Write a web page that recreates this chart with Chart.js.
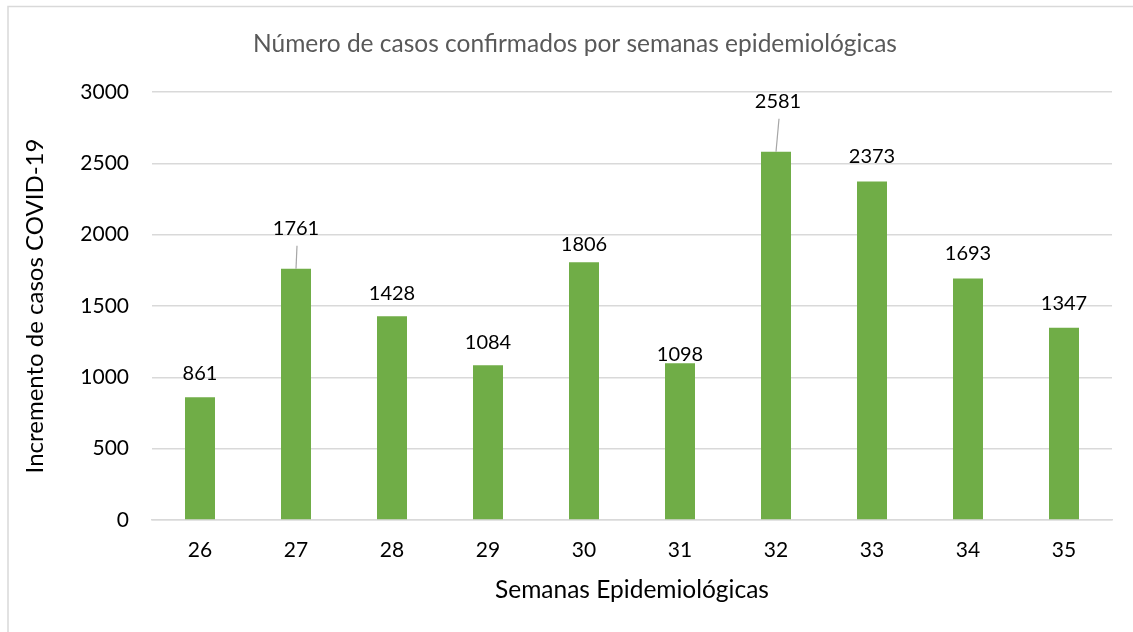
<!DOCTYPE html>
<html><head><meta charset="utf-8">
<script src="https://cdn.jsdelivr.net/npm/chart.js@4/dist/chart.umd.min.js"></script>
<style>html,body{margin:0;padding:0;background:#fff;}#wrap{width:1133px;height:632px;position:relative;}</style>
</head><body><div id="wrap"><canvas id="c" width="1133" height="632"></canvas></div>
<script>
const categories = ['26','27','28','29','30','31','32','33','34','35'];
const casos = [861, 1761, 1428, 1084, 1806, 1098, 2581, 2373, 1693, 1347];
const yTicks = [0, 500, 1000, 1500, 2000, 2500, 3000];
const chartTitle = 'Número de casos confirmados por semanas epidemiológicas';
const yTitle = 'Incremento de casos COVID-19';
const xTitle = 'Semanas Epidemiológicas';
// label placement styling (pixels above bar top), and leader lines
const labelLift = [23.5, 40, 23, 23, 18, 9, 50, 24.5, 24.5, 24.5];
const labelShiftX = [0, 0, 0, 0, 0, 0, 2, 0, 0, 0];
const leader = [false, true, false, false, false, false, true, false, false, false];

const FONT = 'Lato, "Open Sans", sans-serif';

const decor = {
  id: 'decor',
  beforeDraw(chart) {
    const c = chart.ctx;
    c.save();
    c.fillStyle = '#fff';
    c.fillRect(0, 0, chart.width, chart.height);
    c.strokeStyle = '#d9d9d9';
    c.lineWidth = 1.5;
    c.beginPath();
    c.moveTo(8, 640); c.lineTo(8, 6.5); c.lineTo(1133, 6.5);
    c.stroke();
    c.restore();
  },
  afterDraw(chart) {
    const c = chart.ctx;
    const a = chart.chartArea;
    c.save();
    c.textAlign = 'center';
    c.textBaseline = 'middle';
    c.fillStyle = '#595959';
    c.font = '24.5px ' + FONT;
    c.fillText(chartTitle, 575, 44);
    c.fillStyle = '#000';
    c.font = '24.5px ' + FONT;
    c.fillText(xTitle, 632, 590);
    c.save();
    c.translate(35, (a.top + a.bottom) / 2);
    c.rotate(-Math.PI / 2);
    c.font = '24px ' + FONT;
    c.fillText(yTitle, 0, 0);
    c.restore();
    const meta = chart.getDatasetMeta(0);
    c.font = '20px ' + FONT;
    meta.data.forEach((bar, i) => {
      const lx = bar.x + labelShiftX[i];
      const ly = bar.y - labelLift[i];
      c.fillStyle = '#000';
      c.fillText(String(casos[i]), lx, ly);
      if (leader[i]) {
        c.strokeStyle = '#a6a6a6';
        c.lineWidth = 1.2;
        c.beginPath();
        c.moveTo(lx + 1, ly + 17);
        c.lineTo(bar.x, bar.y);
        c.stroke();
      }
    });
    c.restore();
  }
};

new Chart(document.getElementById('c'), {
  type: 'bar',
  data: {
    labels: categories,
    datasets: [{
      data: casos,
      backgroundColor: '#70ad47',
      borderWidth: 0,
      categoryPercentage: 1,
      barPercentage: 0.3125
    }]
  },
  options: {
    responsive: false,
    animation: false,
    devicePixelRatio: 1,
    layout: { padding: { top: 92, right: 21, bottom: 0, left: 0 } },
    plugins: { legend: { display: false }, tooltip: { enabled: false } },
    scales: {
      x: {
        grid: { display: false, drawTicks: false },
        border: { color: '#d9d9d9', width: 1.5 },
        ticks: { color: '#000', font: { family: FONT, size: 21 }, padding: 18 },
        afterFit(s) { s.height = 112; }
      },
      y: {
        min: 0, max: 3000,
        afterBuildTicks(s) { s.ticks = yTicks.map(v => ({ value: v })); },
        grid: { color: '#d9d9d9', lineWidth: 1.5, drawTicks: false },
        border: { display: false },
        ticks: { color: '#000', font: { family: FONT, size: 21 }, padding: 23, callback: v => String(v) },
        afterFit(s) { s.width = 152; }
      }
    }
  },
  plugins: [decor]
});
</script></body></html>
